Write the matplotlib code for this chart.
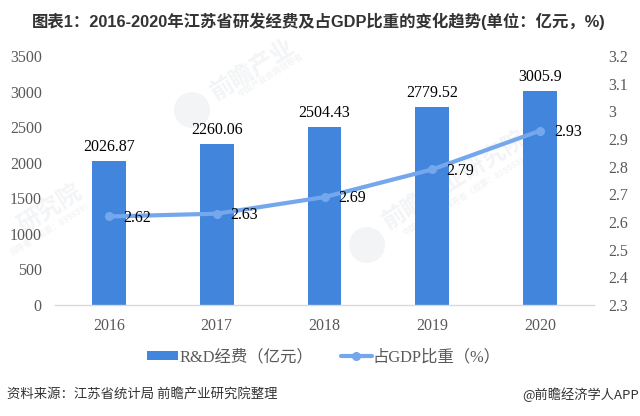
import matplotlib
matplotlib.use('Agg')
import matplotlib.pyplot as plt
from matplotlib.patches import Ellipse
import numpy as np

plt.rcParams['font.family'] = ['Liberation Serif', 'Noto Sans CJK SC', 'DejaVu Sans']

years = ['2016', '2017', '2018', '2019', '2020']
rd_spend = [2026.87, 2260.06, 2504.43, 2779.52, 3005.9]
gdp_share = [2.62, 2.63, 2.69, 2.79, 2.93]
left_ticks = [0, 500, 1000, 1500, 2000, 2500, 3000, 3500]
right_ticks = [2.3, 2.4, 2.5, 2.6, 2.7, 2.8, 2.9, 3, 3.1, 3.2]

W, H = 640, 416
BAR = '#4285DC'
LINE = '#75A7EC'
GREY = '#595959'
MARK = '#8A97A8'

fig = plt.figure(figsize=(W / 100, H / 100), dpi=100)
# plot area in pixels: x 55-594, y 56-305
ax = fig.add_axes([55 / W, 1 - 305 / H, 539 / W, 249 / H])
ax.patch.set_visible(False)
x = np.arange(len(years))

bars = ax.bar(x, rd_spend, width=0.315, color=BAR, zorder=2, label='R&D经费（亿元）')
ax.set_xlim(-0.5, 4.5)
ax.set_ylim(0, 3500)
ax.set_xticks(x, years)
ax.set_yticks(left_ticks)
ax.tick_params(length=0, labelsize=11.5, labelcolor=GREY)
ax.tick_params(axis='x', pad=9)
ax.tick_params(axis='y', pad=9.5)
for s in ['top', 'left', 'right']:
    ax.spines[s].set_visible(False)
ax.spines['bottom'].set_color('#D9D9D9')
ax.spines['bottom'].set_linewidth(1.0)

ax2 = ax.twinx()
ax2.patch.set_visible(False)
line, = ax2.plot(x, gdp_share, color=LINE, lw=3, marker='o', ms=5.5, zorder=3,
                 solid_capstyle='round', label='占GDP比重（%）')
ax2.set_ylim(2.3, 3.2)
ax2.set_yticks(right_ticks, ['2.3', '2.4', '2.5', '2.6', '2.7', '2.8', '2.9', '3', '3.1', '3.2'])
ax2.tick_params(length=0, labelsize=11.5, labelcolor=GREY, pad=10)
for s in ['top', 'left', 'right', 'bottom']:
    ax2.spines[s].set_visible(False)

for i, v in enumerate(rd_spend):
    ax.annotate(f'{v:g}', (x[i], v), xytext=(0, 4.5), textcoords='offset points',
                ha='center', va='bottom', fontsize=11.5, color='black')
for i, v in enumerate(gdp_share):
    ax2.annotate(f'{v:g}', (x[i], v), xytext=(10, -1), textcoords='offset points',
                 ha='left', va='center', fontsize=11.5, color='black', zorder=5)

# faint watermark, behind the chart
for wx, wy, txt, size in [(253, 70, '前瞻产业', 17), (50, 208, '研究院', 17),
                          (455, 180, '前瞻产业研究院', 17),
                          (270, 75, '中国产业咨询领导者', 6),
                          (52, 228, '领导者（股票：839559）', 6),
                          (466, 195, '中国产业咨询领导者（股票：839559）', 6)]:
    fig.text(wx / W, 1 - wy / H, txt, fontsize=size, color=MARK, alpha=0.1,
             rotation=32, ha='center', va='center', fontweight='bold',
             family=['Noto Sans CJK SC'], zorder=-1)
for cx, cy in [(192, 110), (367, 245)]:
    fig.add_artist(Ellipse((cx / W, 1 - cy / H), 36 / W, 36 / H, color=MARK,
                           alpha=0.1, lw=0, zorder=-1))

fig.text(32 / W, 1 - 21 / H, '图表1：2016-2020年江苏省研发经费及占GDP比重的变化趋势(单位：亿元，%)',
         fontsize=11.8, fontweight='bold', color='#333333', ha='left', va='center',
         family=['Liberation Sans', 'Noto Sans CJK SC'])

fig.legend(handles=[bars, line], loc='center', bbox_to_anchor=(324 / W, 1 - 357 / H),
           ncol=2, frameon=False, fontsize=11.8, labelcolor=GREY, handlelength=1.9,
           handleheight=0.45, columnspacing=1.7, handletextpad=0.05)

fig.text(7 / W, 1 - 395 / H, '资料来源：江苏省统计局 前瞻产业研究院整理', fontsize=9.6, color='#333333',
         ha='left', va='center', family=['Noto Sans CJK SC'])
fig.text(639 / W, 1 - 395 / H, '@前瞻经济学人APP', fontsize=9.5, color='#333333',
         ha='right', va='center', family=['Noto Sans CJK SC'])

fig.savefig('out.png', dpi=100)
